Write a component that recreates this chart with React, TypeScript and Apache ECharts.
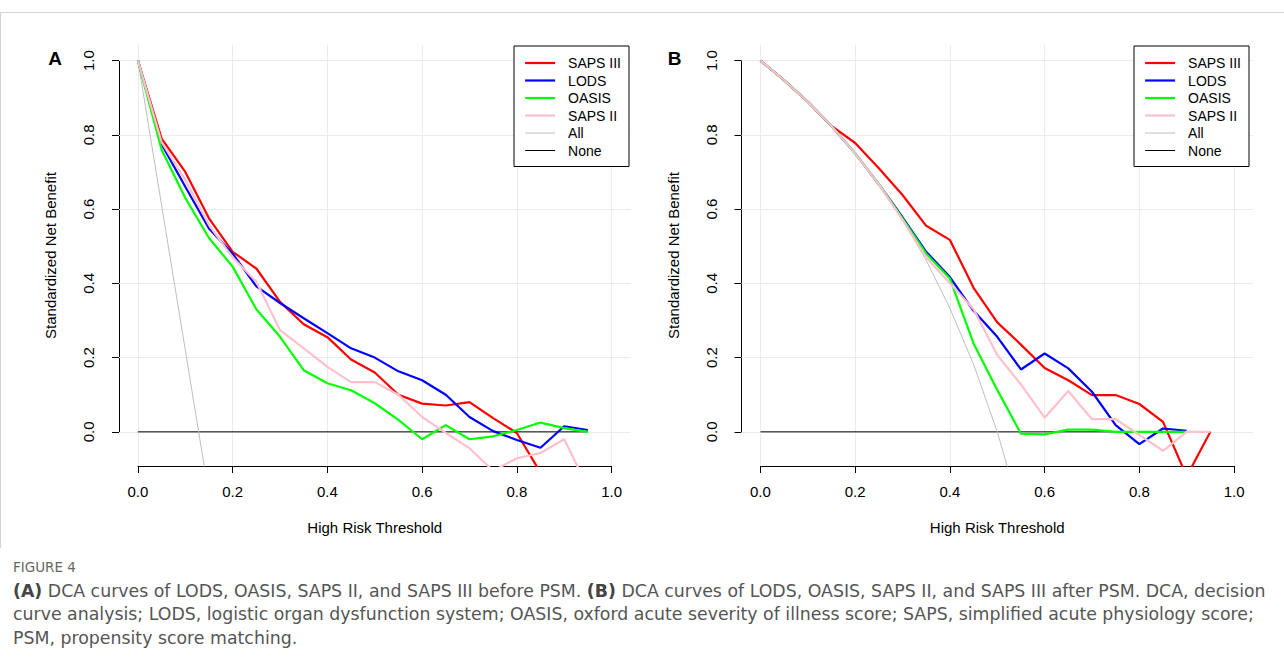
import React, { useEffect, useRef } from "react";
import * as echarts from "echarts";

// ---------------- data ----------------
const thresholds = [0, 0.05, 0.1, 0.15, 0.2, 0.25, 0.3, 0.35, 0.4, 0.45, 0.5, 0.55, 0.6, 0.65, 0.7, 0.75, 0.8, 0.85, 0.9, 0.95];
const tickValues = [0, 0.2, 0.4, 0.6, 0.8, 1.0];
const seriesNames = ["SAPS III", "LODS", "OASIS", "SAPS II", "All", "None"];
const seriesColors = ["#ff0000", "#0000ff", "#00ff00", "#ffc0cb", "#bebebe", "#000000"];

// Panel A (before PSM)
const aSaps3 = [1.0, 0.79, 0.70, 0.575, 0.485, 0.44, 0.35, 0.29, 0.255, 0.195, 0.16, 0.10, 0.076, 0.071, 0.08, 0.037, -0.003, -0.11];
const aLods = [1.0, 0.775, 0.66, 0.548, 0.48, 0.392, 0.347, 0.306, 0.266, 0.225, 0.20, 0.163, 0.139, 0.10, 0.04, 0.002, -0.022, -0.043, 0.015, 0.005];
const aOasis = [1.0, 0.76, 0.63, 0.522, 0.445, 0.33, 0.256, 0.166, 0.131, 0.112, 0.077, 0.032, -0.02, 0.018, -0.02, -0.012, 0.005, 0.025, 0.01, 0.0];
const aSaps2 = [1.0, 0.78, 0.678, 0.557, 0.47, 0.404, 0.274, 0.225, 0.175, 0.134, 0.134, 0.10, 0.04, -0.003, -0.044, -0.105, -0.071, -0.057, -0.02, -0.15];
const aAll = [1.0, 0.61, 0.22, -0.17];

// Panel B (after PSM)
const bSaps3 = [1.0, 0.947, 0.889, 0.824, 0.778, 0.71, 0.638, 0.555, 0.517, 0.388, 0.295, 0.235, 0.172, 0.139, 0.099, 0.099, 0.075, 0.027, -0.12, 0.0];
const bLods = [1.0, 0.947, 0.889, 0.824, 0.75, 0.667, 0.578, 0.485, 0.417, 0.326, 0.256, 0.168, 0.211, 0.171, 0.108, 0.018, -0.033, 0.009, 0.003];
const bOasis = [1.0, 0.947, 0.889, 0.824, 0.75, 0.667, 0.575, 0.48, 0.413, 0.238, 0.113, -0.005, -0.007, 0.006, 0.006, 0.0, 0.0, 0.0, 0.0];
const bSaps2 = [1.0, 0.947, 0.889, 0.824, 0.75, 0.667, 0.571, 0.47, 0.40, 0.33, 0.207, 0.128, 0.038, 0.11, 0.034, 0.034, -0.008, -0.051, 0.0, 0.0];
const bAll = [1.0, 0.947, 0.889, 0.824, 0.75, 0.667, 0.571, 0.462, 0.333, 0.182, 0.0, -0.22];

const noneX = [0, 0.95];
const noneY = [0, 0];

const captionTitle = "FIGURE 4";
const captionLines = [
  "{b|(A)} DCA curves of LODS, OASIS, SAPS II, and SAPS III before PSM. {b|(B)} DCA curves of LODS, OASIS, SAPS II, and SAPS III after PSM. DCA, decision",
  "curve analysis; LODS, logistic organ dysfunction system; OASIS, oxford acute severity of illness score; SAPS, simplified acute physiology score;",
  "PSM, propensity score matching.",
];

// ---------------- layout ----------------
const FONT = "'Liberation Sans', Arial, Helvetica, sans-serif";
const X_MIN = -0.04, X_MAX = 1.04, Y_MIN = -0.092, Y_MAX = 1.042;
const PLOT_TOP = 45, PLOT_H = 421, PLOT_W = 511.5;
const PX_X = PLOT_W / (X_MAX - X_MIN);
const PX_Y = PLOT_H / (Y_MAX - Y_MIN);

const toPairs = (ys: number[]) => ys.map((v, i) => [thresholds[i], v]);

function buildOption() {
  const panels = [
    { key: "A", left: 119, legendLeft: 514, labelX: 55, data: [aSaps3, aLods, aOasis, aSaps2, aAll] },
    { key: "B", left: 741.5, legendLeft: 1134, labelX: 674.5, data: [bSaps3, bLods, bOasis, bSaps2, bAll] },
  ];
  const grid: any[] = [];
  const xAxis: any[] = [];
  const yAxis: any[] = [];
  const series: any[] = [];
  const legend: any[] = [];
  const graphic: any[] = [];

  panels.forEach((p, pi) => {
    const dataGrid = pi * 2;
    const axisGrid = pi * 2 + 1;
    const axLeft = p.left + (0 - X_MIN) * PX_X;
    const axTop = PLOT_TOP + (Y_MAX - 1) * PX_Y;
    grid.push({ left: p.left, top: PLOT_TOP, width: PLOT_W, height: PLOT_H, containLabel: false, outerBoundsMode: "none" });
    grid.push({ left: axLeft, top: axTop, width: PX_X, height: PX_Y, containLabel: false, outerBoundsMode: "none" });
    const xOffset = PLOT_TOP + PLOT_H - (axTop + PX_Y);
    const yOffset = axLeft - p.left;

    xAxis.push({
      gridIndex: dataGrid, type: "value", min: X_MIN, max: X_MAX,
      axisLine: { show: false }, axisTick: { show: false }, axisLabel: { show: false }, splitLine: { show: false },
      name: "High Risk Threshold", nameLocation: "middle", nameGap: 54,
      nameTextStyle: { fontSize: 15, color: "#000", fontFamily: FONT },
    });
    xAxis.push({
      gridIndex: axisGrid, type: "value", min: 0, max: 1, interval: 0.2, position: "bottom", offset: xOffset,
      axisLine: { show: true, onZero: false, lineStyle: { color: "#000", width: 1 } },
      axisTick: { show: true, length: 7, lineStyle: { color: "#000", width: 1 } },
      axisLabel: { margin: 18, fontSize: 15, color: "#000", fontFamily: FONT, formatter: (v: number) => v.toFixed(1) },
      splitLine: { show: false },
    });
    yAxis.push({
      gridIndex: dataGrid, type: "value", min: Y_MIN, max: Y_MAX,
      axisLine: { show: false }, axisTick: { show: false }, axisLabel: { show: false }, splitLine: { show: false },
      name: "Standardized Net Benefit", nameLocation: "middle", nameGap: 61, nameRotate: 90,
      nameTextStyle: { fontSize: 15, color: "#000", fontFamily: FONT },
    });
    yAxis.push({
      gridIndex: axisGrid, type: "value", min: 0, max: 1, interval: 0.2, position: "left", offset: yOffset,
      axisLine: { show: true, onZero: false, lineStyle: { color: "#000", width: 1 } },
      axisTick: { show: true, length: 7, lineStyle: { color: "#000", width: 1 } },
      axisLabel: { rotate: 90, margin: 23, fontSize: 15, color: "#000", fontFamily: FONT, formatter: (v: number) => v.toFixed(1) },
      splitLine: { show: false },
    });

    const gridLines = [
      ...tickValues.map((v) => ({ xAxis: v })),
      ...tickValues.map((v) => ({ yAxis: v })),
    ];

    // None (with grid lines as markLine underneath)
    series.push({
      name: "None", type: "line", xAxisIndex: dataGrid, yAxisIndex: dataGrid,
      data: noneX.map((x, i) => [x, noneY[i]]), symbol: "none", showSymbol: false, z: 3,
      lineStyle: { color: seriesColors[5], width: 1 }, itemStyle: { color: seriesColors[5] },
      silent: true, clip: true,
      markLine: {
        silent: true, symbol: ["none", "none"], z: 1, label: { show: false },
        lineStyle: { type: "solid", color: "#ebebeb", width: 1 },
        emphasis: { disabled: true }, animation: false,
        data: gridLines,
      },
    });
    // All
    series.push({
      name: "All", type: "line", xAxisIndex: dataGrid, yAxisIndex: dataGrid,
      data: toPairs(p.data[4]), symbol: "none", showSymbol: false, z: 4, clip: true, silent: true,
      lineStyle: { color: seriesColors[4], width: 1 }, itemStyle: { color: seriesColors[4] },
    });
    // Models
    for (let k = 0; k < 4; k++) {
      series.push({
        name: seriesNames[k], type: "line", xAxisIndex: dataGrid, yAxisIndex: dataGrid,
        data: toPairs(p.data[k]), symbol: "none", showSymbol: false, z: 5 + k, clip: true, silent: true,
        lineStyle: { color: seriesColors[k], width: 2.2 }, itemStyle: { color: seriesColors[k] },
      });
    }

    legend.push({
      left: p.legendLeft, top: 46, orient: "vertical", data: seriesNames,
      itemWidth: 30, itemHeight: 14, itemGap: 3.5,
      padding: [10, 8, 9, 10], backgroundColor: "#fff", borderColor: "#000", borderWidth: 1, borderRadius: 0,
      lineStyle: { width: "inherit" },
      itemStyle: { color: "rgba(0,0,0,0)", borderColor: "rgba(0,0,0,0)", borderWidth: 0, opacity: 0 },
      selectedMode: false,
      textStyle: { fontSize: 14, lineHeight: 14, color: "#000", fontFamily: FONT, padding: [0, 0, 0, 8] },
    });

    graphic.push({
      type: "text", x: p.labelX, y: 58.5, silent: true,
      style: { text: p.key, fill: "#000", font: `bold 19px ${FONT}`, align: "center", verticalAlign: "middle" },
    });
  });

  // frame lines
  graphic.push({ type: "line", silent: true, shape: { x1: 0, y1: 12.5, x2: 1284, y2: 12.5 }, style: { stroke: "#d4d4d4", lineWidth: 1 } });
  graphic.push({ type: "line", silent: true, shape: { x1: 0.5, y1: 12.5, x2: 0.5, y2: 548 }, style: { stroke: "#d4d4d4", lineWidth: 1 } });

  const CAP_FONT = "'DejaVu Sans', 'Open Sans', sans-serif";
  const CAP_SIZE = 17.35;
  graphic.push({
    type: "text", x: 13, y: 567, silent: true,
    style: { text: captionTitle, fill: "#666", font: `13.5px ${CAP_FONT}`, verticalAlign: "middle", lineHeight: 16 },
  });
  captionLines.forEach((line, i) => {
    graphic.push({
      type: "text", x: 13, y: 591 + i * 23.3, silent: true,
      style: {
        text: line, fill: "#555", font: `${CAP_SIZE}px ${CAP_FONT}`, verticalAlign: "middle", lineHeight: 20,
        rich: { b: { fontWeight: "bold", fontSize: CAP_SIZE, fontFamily: CAP_FONT, fill: "#444", lineHeight: 20 } },
      },
    });
  });

  return {
    animation: false,
    backgroundColor: "#ffffff",
    grid, xAxis, yAxis, series, legend, graphic,
  };
}

export default function App() {
  const ref = useRef<HTMLDivElement>(null);
  useEffect(() => {
    if (!ref.current) return;
    const chart = echarts.init(ref.current, null, { renderer: "svg" });
    chart.setOption(buildOption() as any);
    return () => chart.dispose();
  }, []);
  return (
    <div
      ref={ref}
      style={{ position: "fixed", left: 0, top: 0, width: 1284, height: 671, background: "#fff" }}
    />
  );
}
